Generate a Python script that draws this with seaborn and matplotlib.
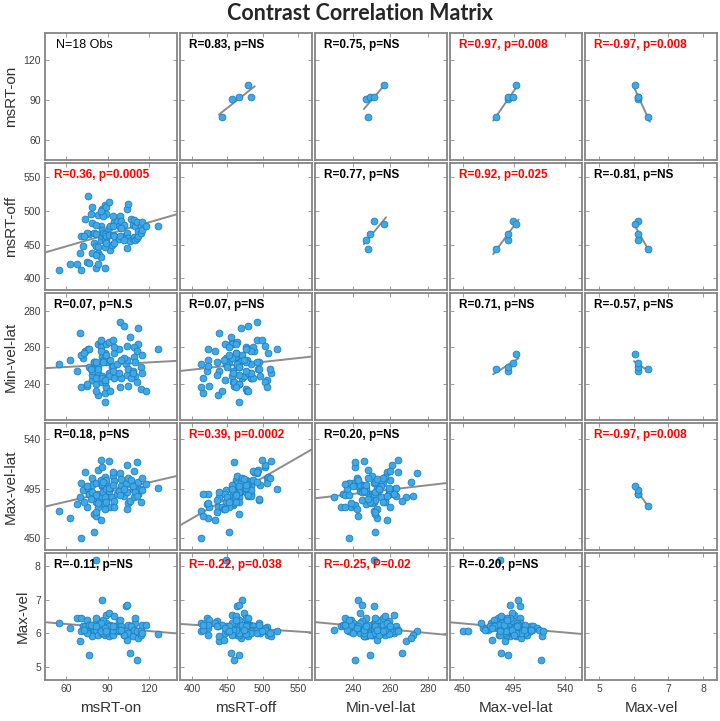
import numpy as np
import pandas as pd
import matplotlib
matplotlib.use("Agg")
import matplotlib.pyplot as plt
import seaborn as sns

variables = ["msRT-on", "msRT-off", "Min-vel-lat", "Max-vel-lat", "Max-vel"]

# ---- lower-triangle dataset (all observations) ----
ms_rt_on = [55, 63, 68, 71, 70, 72, 71, 74, 76, 75, 77, 79, 79, 77, 80, 82, 80, 79, 82, 83,
            83, 84, 82, 83, 88, 85, 86, 85, 83, 86, 86, 88, 89, 89, 91, 86, 87, 88, 89, 88,
            89, 91, 92, 92, 93, 91, 94, 95, 95, 97, 98, 99, 100, 102, 103, 104, 104, 105, 105, 104,
            106, 108, 109, 110, 111, 112, 107, 108, 109, 110, 111, 112, 114, 114, 115, 115, 118, 126, 94, 82,
            85, 87, 78, 75, 73, 82, 85, 98, 95, 99, 102, 88, 89, 94, 100]
ms_rt_off = [412, 422, 421, 412, 438, 448, 462, 488, 521, 424, 423, 506, 482, 466, 467, 466, 452, 438, 448, 446,
             437, 435, 415, 422, 416, 457, 462, 477, 494, 497, 503, 508, 506, 495, 512, 471, 467, 466, 457, 458,
             463, 474, 478, 442, 450, 464, 464, 462, 483, 484, 478, 492, 484, 479, 464, 467, 503, 510, 459, 445,
             455, 458, 461, 457, 460, 463, 487, 479, 486, 477, 483, 470, 477, 467, 471, 483, 478, 477, 492, 479,
             432, 492, 495, 467, 462, 435, 499, 458, 452, 462, 457, 447, 452, 477, 474]
min_vel_lat = [251, 253, 247, 238, 268, 254, 256, 258, 259, 239, 259, 242, 245, 249, 252, 240, 252, 247, 251, 262,
               234, 245, 243, 250, 235, 263, 255, 260, 248, 244, 241, 257, 238, 252, 246, 243, 253, 230, 262, 241,
               255, 244, 253, 236, 249, 263, 250, 257, 243, 251, 259, 274, 243, 272, 251, 245, 261, 248, 239, 253,
               266, 247, 255, 244, 241, 262, 243, 246, 260, 252, 258, 271, 237, 249, 256, 246, 236, 259, 264, 236,
               258, 252, 248, 240, 257, 252, 264, 246, 260, 238, 254, 242, 256, 247, 253]
max_vel_lat = [475, 468, 481, 450, 487, 494, 500, 510, 495, 478, 490, 505, 498, 490, 472, 500, 455, 492, 483, 490,
               478, 485, 470, 482, 490, 488, 497, 503, 512, 498, 515, 506, 500, 485, 520, 499, 492, 487, 495, 480,
               503, 493, 496, 478, 487, 496, 507, 484, 502, 490, 494, 509, 497, 488, 500, 492, 517, 505, 482, 476,
               484, 495, 487, 498, 519, 490, 503, 497, 511, 492, 488, 501, 495, 483, 505, 494, 499, 496, 510, 489,
               466, 501, 486, 497, 483, 474, 521, 493, 478, 489, 495, 476, 483, 498, 504]
max_vel = [6.30, 6.15, 6.45, 6.05, 5.75, 6.22, 6.45, 6.20, 6.05, 6.40, 6.25, 6.18, 6.25, 5.35, 6.10, 6.30, 6.05, 5.90, 8.20, 6.00,
           6.20, 6.35, 6.10, 5.95, 6.25, 6.15, 6.05, 6.10, 6.20, 6.00, 6.15, 5.95, 6.05, 6.30, 5.90, 7.00, 6.40, 6.10, 6.55, 6.15,
           6.00, 6.60, 6.10, 6.25, 6.05, 6.20, 5.95, 6.50, 6.15, 6.05, 6.35, 6.05, 6.20, 5.95, 6.82, 6.85, 6.10, 6.00, 6.25, 5.80,
           5.42, 6.15, 6.00, 6.30, 5.20, 6.05, 6.20, 5.90, 6.10, 6.45, 6.05, 5.85, 6.10, 5.95, 6.25, 6.00, 6.25, 5.98, 6.10, 6.45,
           6.30, 6.00, 6.25, 6.00, 6.10, 6.20, 6.05, 6.10, 6.20, 6.40, 5.95, 6.15, 6.05, 6.20, 6.10]

# ---- upper-triangle dataset (subset means) ----
up_ms_rt_on = [77, 91, 92, 92, 101]
up_ms_rt_off = [443, 456, 466, 484, 480]
up_min_vel_lat = [248, 247, 249, 251.5, 256.5]
up_max_vel_lat = [479, 490, 490, 494, 497]
up_max_vel = [6.42, 6.11, 6.12, 6.12, 6.05]

# ---- axis settings ----
axis_limits = [(45, 140), (383, 570), (220, 290), (439, 555), (4.6, 8.4)]
axis_ticks = [[60, 90, 120], [400, 450, 500, 550], [240, 260, 280], [450, 495, 540], [5, 6, 7, 8]]

# ---- panel annotations (row, col, text, significant) ----
ann_rows = [0, 0, 0, 0, 1, 1, 1, 1, 2, 2, 2, 2, 3, 3, 3, 3, 4, 4, 4, 4]
ann_cols = [1, 2, 3, 4, 0, 2, 3, 4, 0, 1, 3, 4, 0, 1, 2, 4, 0, 1, 2, 3]
ann_texts = ["R=0.83, p=NS", "R=0.75, p=NS", "R=0.97, p=0.008", "R=-0.97, p=0.008",
             "R=0.36, p=0.0005", "R=0.77, p=NS", "R=0.92, p=0.025", "R=-0.81, p=NS",
             "R=0.07, p=N.S", "R=0.07, p=NS", "R=0.71, p=NS", "R=-0.57, p=NS",
             "R=0.18, p=NS", "R=0.39, p=0.0002", "R=0.20, p=NS", "R=-0.97, p=0.008",
             "R=-0.11, p=NS", "R=-0.22, p=0.038", "R=-0.25, P=0.02", "R=-0.20, p=NS"]
ann_signif = [False, False, True, True, True, False, True, False, False, False, False, False,
              False, True, False, True, False, True, True, False]

title = "Contrast Correlation Matrix"
n_label = "N=18 Obs"

lower = pd.DataFrame(dict(zip(variables, [ms_rt_on, ms_rt_off, min_vel_lat, max_vel_lat, max_vel])))
upper = pd.DataFrame(dict(zip(variables, [up_ms_rt_on, up_ms_rt_off, up_min_vel_lat, up_max_vel_lat, up_max_vel])))

sns.set_theme(style="white")
plt.rcParams["font.family"] = ["Liberation Sans", "DejaVu Sans"]

point_color = "#3fa9e8"
edge_color = "#1f7fc0"
line_color = "#8c8c8c"
spine_color = "#858585"

fig, axes = plt.subplots(5, 5, figsize=(7.2, 7.21), dpi=100)
fig.subplots_adjust(left=0.0625, right=0.996, top=0.954, bottom=0.057, wspace=0.023, hspace=0.024)

n = len(variables)
for i in range(n):
    for j in range(n):
        ax = axes[i, j]
        xv, yv = variables[j], variables[i]
        ax.set_xlim(axis_limits[j])
        ax.set_ylim(axis_limits[i])
        if i > j:
            sns.regplot(data=lower, x=xv, y=yv, ax=ax, scatter=False, ci=None, truncate=False,
                        line_kws=dict(color=line_color, lw=1.4, zorder=2))
            sns.scatterplot(data=lower, x=xv, y=yv, ax=ax, s=24, color=point_color,
                            edgecolor=edge_color, linewidth=0.6, zorder=3)
        elif i < j:
            xd = upper[xv].to_numpy(float)
            yd = upper[yv].to_numpy(float)
            k, b = np.polyfit(xd, yd, 1)
            span = xd.max() - xd.min()
            xx = np.array([xd.min() - 0.12 * span, xd.max() + 0.12 * span])
            sns.lineplot(x=xx, y=k * xx + b, ax=ax, color=line_color, lw=1.4, zorder=2)
            sns.scatterplot(data=upper, x=xv, y=yv, ax=ax, s=24, color=point_color,
                            edgecolor=edge_color, linewidth=0.6, zorder=3)
        ax.set_xlim(axis_limits[j])
        ax.set_ylim(axis_limits[i])
        ax.set_xticks(axis_ticks[j])
        ax.set_yticks(axis_ticks[i])
        ax.tick_params(direction="in", length=3, width=0.7, color="#999999",
                       top=True, right=True, bottom=True, left=True,
                       labelsize=7.5, labelcolor="#404040", pad=3)
        ax.set_xlabel("")
        ax.set_ylabel("")
        if i != n - 1:
            ax.tick_params(labelbottom=False)
        else:
            ax.set_xlabel(xv, fontsize=11, color="#333333", labelpad=5)
        if j != 0:
            ax.tick_params(labelleft=False)
        else:
            ax.set_ylabel(yv, fontsize=11, color="#333333", labelpad=4)
        for sp in ax.spines.values():
            sp.set_color(spine_color)
            sp.set_linewidth(1.3)

for r, c, t, s in zip(ann_rows, ann_cols, ann_texts, ann_signif):
    axes[r, c].text(0.07, 0.905, t, transform=axes[r, c].transAxes, fontsize=8.5,
                    fontweight="bold", color="#ff0000" if s else "#000000",
                    ha="left", va="center", family=["Liberation Sans", "DejaVu Sans"], zorder=5)

axes[0, 0].text(0.08, 0.905, n_label, transform=axes[0, 0].transAxes, fontsize=9,
                color="#000000", ha="left", va="center", zorder=5)

fig.suptitle(title, x=0.5, y=0.996, fontsize=15.5, fontweight="bold", family=["Lato", "DejaVu Sans"])

fig.savefig("out.png", dpi=100)
